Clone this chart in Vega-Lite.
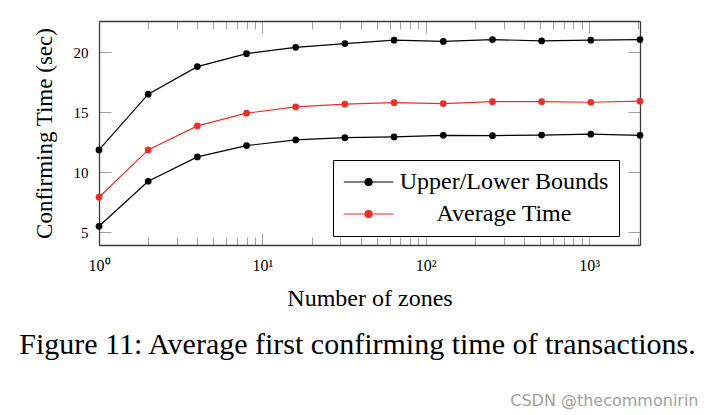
{
  "$schema": "https://vega.github.io/schema/vega-lite/v6.json",
  "autosize": "none",
  "padding": {"left": 99, "top": 21, "right": 73, "bottom": 170},
  "width": 541,
  "height": 224,
  "background": "white",
  "config": {"view": {"stroke": null}},
  "data": {
    "values": [
      {"zones": 1, "time": 11.86, "series": "upper", "type": "Upper/Lower Bounds"},
      {"zones": 2, "time": 16.5, "series": "upper", "type": "Upper/Lower Bounds"},
      {"zones": 4, "time": 18.8, "series": "upper", "type": "Upper/Lower Bounds"},
      {"zones": 8, "time": 19.88, "series": "upper", "type": "Upper/Lower Bounds"},
      {"zones": 16, "time": 20.41, "series": "upper", "type": "Upper/Lower Bounds"},
      {"zones": 32, "time": 20.72, "series": "upper", "type": "Upper/Lower Bounds"},
      {"zones": 64, "time": 21.0, "series": "upper", "type": "Upper/Lower Bounds"},
      {"zones": 128, "time": 20.9, "series": "upper", "type": "Upper/Lower Bounds"},
      {"zones": 256, "time": 21.05, "series": "upper", "type": "Upper/Lower Bounds"},
      {"zones": 512, "time": 20.94, "series": "upper", "type": "Upper/Lower Bounds"},
      {"zones": 1024, "time": 21.0, "series": "upper", "type": "Upper/Lower Bounds"},
      {"zones": 2048, "time": 21.05, "series": "upper", "type": "Upper/Lower Bounds"},
      {"zones": 1, "time": 7.92, "series": "avg", "type": "Average Time"},
      {"zones": 2, "time": 11.86, "series": "avg", "type": "Average Time"},
      {"zones": 4, "time": 13.86, "series": "avg", "type": "Average Time"},
      {"zones": 8, "time": 14.92, "series": "avg", "type": "Average Time"},
      {"zones": 16, "time": 15.44, "series": "avg", "type": "Average Time"},
      {"zones": 32, "time": 15.67, "series": "avg", "type": "Average Time"},
      {"zones": 64, "time": 15.8, "series": "avg", "type": "Average Time"},
      {"zones": 128, "time": 15.72, "series": "avg", "type": "Average Time"},
      {"zones": 256, "time": 15.88, "series": "avg", "type": "Average Time"},
      {"zones": 512, "time": 15.88, "series": "avg", "type": "Average Time"},
      {"zones": 1024, "time": 15.83, "series": "avg", "type": "Average Time"},
      {"zones": 2048, "time": 15.92, "series": "avg", "type": "Average Time"},
      {"zones": 1, "time": 5.5, "series": "lower", "type": "Upper/Lower Bounds"},
      {"zones": 2, "time": 9.25, "series": "lower", "type": "Upper/Lower Bounds"},
      {"zones": 4, "time": 11.28, "series": "lower", "type": "Upper/Lower Bounds"},
      {"zones": 8, "time": 12.22, "series": "lower", "type": "Upper/Lower Bounds"},
      {"zones": 16, "time": 12.69, "series": "lower", "type": "Upper/Lower Bounds"},
      {"zones": 32, "time": 12.88, "series": "lower", "type": "Upper/Lower Bounds"},
      {"zones": 64, "time": 12.94, "series": "lower", "type": "Upper/Lower Bounds"},
      {"zones": 128, "time": 13.08, "series": "lower", "type": "Upper/Lower Bounds"},
      {"zones": 256, "time": 13.05, "series": "lower", "type": "Upper/Lower Bounds"},
      {"zones": 512, "time": 13.1, "series": "lower", "type": "Upper/Lower Bounds"},
      {"zones": 1024, "time": 13.17, "series": "lower", "type": "Upper/Lower Bounds"},
      {"zones": 2048, "time": 13.08, "series": "lower", "type": "Upper/Lower Bounds"}
    ]
  },
  "layer": [
    {
      "mark": {"type": "line", "strokeWidth": 1.2},
      "encoding": {
        "x": {
          "field": "zones", "type": "quantitative",
          "scale": {"type": "log", "domain": [1, 2048], "nice": false},
          "axis": {
            "orient": "bottom",
            "values": [1,2,3,4,5,6,7,8,9,10,20,30,40,50,60,70,80,90,100,200,300,400,500,600,700,800,900,1000,2000],
            "labelExpr": "datum.value == 1 ? '10⁰' : datum.value == 10 ? '10¹' : datum.value == 100 ? '10²' : datum.value == 1000 ? '10³' : ''",
            "tickSize": {"condition": {"test": "abs(log(datum.value)/LN10 - round(log(datum.value)/LN10)) < 0.000001", "value": -12}, "value": -8},
            "tickColor": "#a0a0a0",
            "tickWidth": 1,
            "domainColor": "#3a3a3a",
            "domainWidth": 1.3,
            "grid": false,
            "labelOverlap": false,
            "labelFlush": false,
            "labelBound": false,
            "labelFont": "Liberation Serif",
            "labelFontSize": 16,
            "labelColor": "black",
            "labelPadding": 24,
            "title": "Number of zones",
            "titleFont": "Liberation Serif",
            "titleFontSize": 24,
            "titleFontWeight": "normal",
            "titleColor": "black",
            "titlePadding": 9
          }
        },
        "y": {
          "field": "time", "type": "quantitative",
          "scale": {"domain": [3.94, 22.6], "nice": false, "zero": false},
          "axis": {
            "orient": "left",
            "values": [5, 10, 15, 20],
            "tickSize": -12,
            "tickColor": "#a0a0a0",
            "tickWidth": 1,
            "domainColor": "#3a3a3a",
            "domainWidth": 1.3,
            "grid": false,
            "labelFont": "Liberation Serif",
            "labelFontSize": 15,
            "labelColor": "black",
            "labelPadding": 23,
            "title": "Confirming Time (sec)",
            "titleFont": "Liberation Serif",
            "titleFontSize": 23,
            "titleFontWeight": "normal",
            "titleColor": "black",
            "titlePadding": 17
          }
        },
        "detail": {"field": "series"},
        "color": {
          "field": "type", "type": "nominal",
          "scale": {"domain": ["Upper/Lower Bounds", "Average Time"], "range": ["#000000", "#e8302a"]},
          "legend": {
            "title": null,
            "orient": "none",
            "legendX": 234,
            "legendY": 139,
            "strokeColor": "black",
            "fillColor": "white",
            "padding": 10,
            "rowPadding": 8,
            "symbolType": "M-1.4,0H4.8M1.7,0.44A0.44,0.44,0,1,1,1.7,-0.44A0.44,0.44,0,1,1,1.7,0.44Z",
            "symbolSize": 256,
            "symbolStrokeWidth": 1.2,
            "labelFont": "Liberation Serif",
            "labelFontSize": 24,
            "labelColor": "black",
            "labelAlign": "center",
            "labelOffset": 137,
            "labelLimit": 400,
            "encode": {
              "symbols": {
                "update": {
                  "fill": {"signal": "scale('color', datum.value)"},
                  "stroke": {"signal": "scale('color', datum.value)"},
                  "fillOpacity": {"value": 1},
                  "opacity": {"value": 1}
                }
              }
            }
          }
        }
      }
    },
    {
      "mark": {"type": "point", "filled": true, "size": 45, "opacity": 1},
      "encoding": {
        "x": {
          "field": "zones", "type": "quantitative",
          "axis": {
            "orient": "top",
            "values": [1,2,3,4,5,6,7,8,9,10,20,30,40,50,60,70,80,90,100,200,300,400,500,600,700,800,900,1000,2000],
            "labels": false,
            "tickSize": {"condition": {"test": "abs(log(datum.value)/LN10 - round(log(datum.value)/LN10)) < 0.000001", "value": -12}, "value": -8},
            "tickColor": "#a0a0a0",
            "tickWidth": 1,
            "domainColor": "#3a3a3a",
            "domainWidth": 1.3,
            "grid": false,
            "title": "CSDN @thecommonirin",
            "titleFont": "DejaVu Sans",
            "titleFontSize": 16,
            "titleFontWeight": "normal",
            "titleColor": "#a0a0a0",
            "titleAlign": "right",
            "titleBaseline": "alphabetic",
            "titleAngle": 0,
            "titleX": 599,
            "titleY": 384
          }
        },
        "y": {
          "field": "time", "type": "quantitative",
          "axis": {
            "orient": "right",
            "values": [5, 10, 15, 20],
            "labels": false,
            "tickSize": -12,
            "tickColor": "#a0a0a0",
            "tickWidth": 1,
            "domainColor": "#3a3a3a",
            "domainWidth": 1.3,
            "grid": false,
            "title": "Figure 11: Average first confirming time of transactions.",
            "titleFont": "Liberation Serif",
            "titleFontSize": 30,
            "titleFontWeight": "normal",
            "titleColor": "black",
            "titleAngle": 0,
            "titleAlign": "center",
            "titleBaseline": "alphabetic",
            "titleX": -283,
            "titleY": 332
          }
        },
        "color": {"field": "type", "type": "nominal", "legend": null}
      }
    }
  ],
  "resolve": {"axis": {"x": "independent", "y": "independent"}}
}
